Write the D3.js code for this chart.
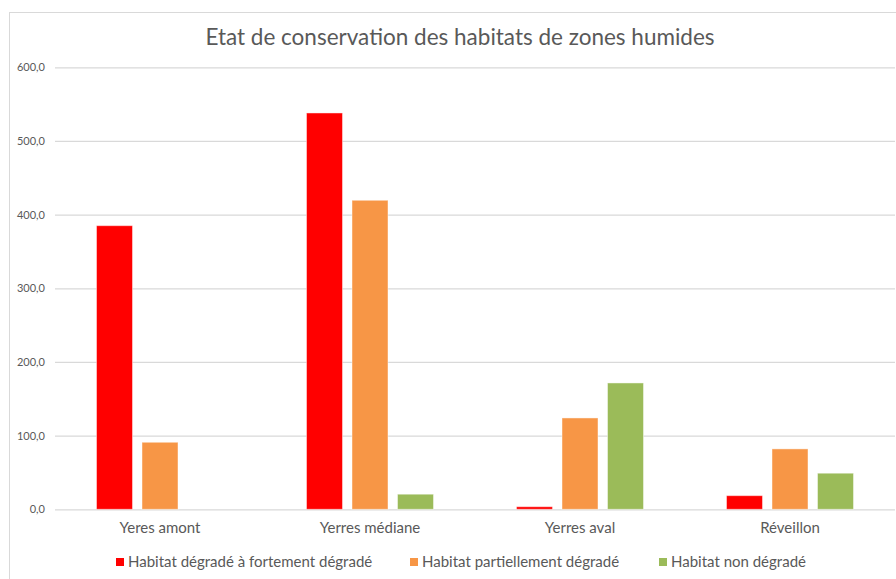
<!DOCTYPE html>
<html>
<head>
<meta charset="utf-8">
<script src="https://cdn.jsdelivr.net/npm/d3@7/dist/d3.min.js"></script>
<style>
  html, body { margin: 0; padding: 0; background: #fff; }
  svg { display: block; font-family: Lato, "Open Sans", sans-serif; }
</style>
</head>
<body>
<svg id="chart" width="896" height="579"></svg>
<script>
// Surface of wetland habitats by conservation state, per sector
const categories = ["Yeres amont", "Yerres médiane", "Yerres aval", "Réveillon"];
const seriesNames = [
  "Habitat dégradé à fortement dégradé",
  "Habitat partiellement dégradé",
  "Habitat non dégradé"
];
const degradedValues = [385, 538, 3.5, 18.5];
const partialValues = [91, 419.5, 124, 82];
const intactValues = [0, 20.5, 171.5, 49];
const seriesColors = ["#FF0000", "#F79646", "#9BBB59"];
const yTicks = [0, 100, 200, 300, 400, 500, 600];
const title = "Etat de conservation des habitats de zones humides";

const seriesValues = [degradedValues, partialValues, intactValues];
const fmt = v => d3.format(".1f")(v).replace(".", ",");

const svg = d3.select("#chart");
const W = 896, H = 579;
const plot = { left: 55, right: 895, top: 67.3, bottom: 509.3 };

// chart frame (top and left edges visible)
svg.append("rect").attr("x", 9.5).attr("y", 12.5)
  .attr("width", W + 20).attr("height", H + 20)
  .attr("fill", "#fff").attr("stroke", "#d9d9d9").attr("stroke-width", 1);

const y = d3.scaleLinear().domain([0, 600]).range([plot.bottom, plot.top]);
const x0 = d3.scaleBand().domain(categories).range([plot.left, plot.right])
  .paddingInner(0).paddingOuter(0);
const x1 = d3.scaleBand().domain(seriesNames).range([0, x0.bandwidth()])
  .paddingInner(0.209).paddingOuter(0.912);

// title
svg.append("text").attr("x", 460).attr("y", 45)
  .attr("text-anchor", "middle").attr("fill", "#595959")
  .attr("font-size", 22.5).text(title);

// y axis with gridlines
const yAxis = d3.axisLeft(y).tickValues(yTicks).tickFormat(fmt)
  .tickSize(-(plot.right - plot.left)).tickPadding(10);
const gy = svg.append("g").attr("transform", `translate(${plot.left},0)`).call(yAxis);
gy.select(".domain").remove();
gy.selectAll(".tick line").attr("stroke", "#d9d9d9").attr("stroke-width", 1.2);
gy.selectAll(".tick text").attr("fill", "#595959").attr("font-size", 11)
  .attr("font-family", "Lato, sans-serif");

// bars
const groups = svg.append("g").selectAll("g").data(categories).join("g")
  .attr("transform", d => `translate(${x0(d)},0)`);
groups.selectAll("rect")
  .data((c, ci) => seriesNames.map((s, si) => ({ s, si, v: seriesValues[si][ci] })))
  .join("rect")
  .attr("x", d => x1(d.s))
  .attr("width", x1.bandwidth())
  .attr("y", d => y(d.v))
  .attr("height", d => y(0) - y(d.v))
  .attr("fill", d => seriesColors[d.si])
  .attr("stroke", "rgba(255,255,255,0.45)").attr("stroke-width", 1)
  .attr("display", d => d.v > 0 ? null : "none");

// category axis labels
const xAxis = d3.axisBottom(x0).tickSize(0).tickPadding(13);
const gx = svg.append("g").attr("transform", `translate(0,${plot.bottom})`).call(xAxis);
gx.select(".domain").remove();
gx.selectAll(".tick text").attr("fill", "#595959").attr("font-size", 15)
  .attr("font-family", "Lato, sans-serif");

// legend
const legendX = [116, 410, 659];
const legend = svg.append("g").selectAll("g").data(seriesNames).join("g")
  .attr("transform", (d, i) => `translate(${legendX[i]},558)`);
legend.append("rect").attr("width", 8).attr("height", 8)
  .attr("fill", (d, i) => seriesColors[i]);
legend.append("text").attr("x", 12).attr("y", 4).attr("dy", "0.35em")
  .attr("fill", "#595959").attr("font-size", 15).text(d => d);
</script>
</body>
</html>
